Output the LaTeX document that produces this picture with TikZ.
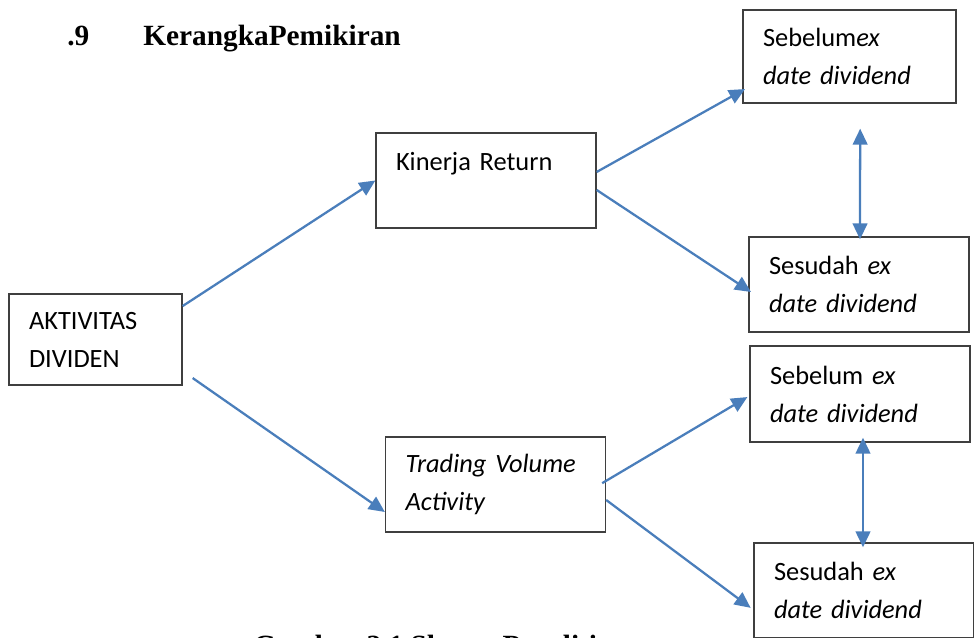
\documentclass[tikz,border=0pt]{standalone}
\usepackage{fontspec}
\setmainfont{Liberation Serif}
\newfontfamily\calibri{Carlito}
\definecolor{arrowblue}{HTML}{4A7EBB}
\definecolor{boxline}{HTML}{3F3F3F}
\usetikzlibrary{arrows.meta}

\begin{document}
\begin{tikzpicture}[
  x=0.75pt, y=-0.75pt,
  box/.style={draw=boxline, line width=1pt, align=left, text width=135pt,
              inner xsep=15pt, inner ysep=0pt, minimum width=165pt,
              minimum height=71.25pt,
              font=\calibri\fontsize{19.8pt}{28.5pt}\selectfont},
  head/.style={anchor=base west, inner sep=0pt,
               font=\fontsize{22pt}{26pt}\selectfont\bfseries},
  ar/.style ={-{Triangle[length=12pt, width=11pt]}, line width=1.7pt, draw=arrowblue},
  dar/.style={{Triangle[length=12pt, width=11pt]}-{Triangle[length=12pt, width=11pt]},
              line width=1.7pt, draw=arrowblue},
]
  \useasboundingbox (0,0) rectangle (974,637);

  % ---- judul ----
  \node[head] (num)   at (67,45)  {.9};
  \node[head] (title) at (143,45) {KerangkaPemikiran};

  % ---- kotak kiri dan tengah ----
  \node[box, text width=99.75pt, minimum width=129.75pt, minimum height=68.25pt]
        (div) at (95.5,339.5) {AKTIVITAS\\DIVIDEN};
  \node[box] (ret) at (486,180.5) {Kinerja Return\\\mbox{}};
  \node[box] (tva) at (495.5,484.5) {\textit{Trading Volume}\\\textit{Activity}};

  % ---- kotak kanan: sebelum / sesudah ----
  \node[box, text width=129.75pt, minimum width=159.75pt, minimum height=69.75pt]
        (pre1) at (849.5,56.5) {Sebelum\textit{ex}\\\textit{date dividend}};
  \node[box] (post1) at (859,284.5) {Sesudah \textit{ex}\\\textit{date dividend}};
  \node[box, minimum height=72pt]
        (pre2) at (860,394) {Sebelum \textit{ex}\\\textit{date dividend}};
  \node[box] (post2) at (864,590.5) {Sesudah \textit{ex}\\\textit{date dividend}};

  % ---- keterangan gambar (terpotong di tepi bawah) ----
  \node[head] (cap) at (253,655) {Gambar 2.1 Skema Penelitian};

  % ---- panah ----
  \draw[ar] ([yshift=25.1pt]div.east) -- (ret.west);
  \draw[ar] ([xshift=7.5pt, yshift=-28.9pt]div.east) -- ([yshift=-20.6pt]tva.west);

  \draw[ar] ([yshift=6.4pt]ret.east)  -- ([xshift=2pt, yshift=-24.4pt]pre1.west);
  \draw[ar] ([yshift=-7.1pt]ret.east) -- ([xshift=2pt, yshift=-5.6pt]post1.west);

  \draw[ar] ([xshift=-3pt, yshift=1pt]tva.east) -- ([xshift=-1.5pt, yshift=-2.3pt]pre2.west);
  \draw[ar] ([yshift=-11.6pt]tva.east) -- ([xshift=-2pt, yshift=-13pt]post2.west);

  % ---- panah dua arah ----
  \draw[dar] ([xshift=8pt, yshift=-18.75pt]pre1.south) -- ([xshift=0.75pt, yshift=-2.25pt]post1.north);
  \draw[dar] ([xshift=2.25pt, yshift=3.75pt]pre2.south) -- ([xshift=-0.75pt, yshift=-3.75pt]post2.north);
\end{tikzpicture}
\end{document}
